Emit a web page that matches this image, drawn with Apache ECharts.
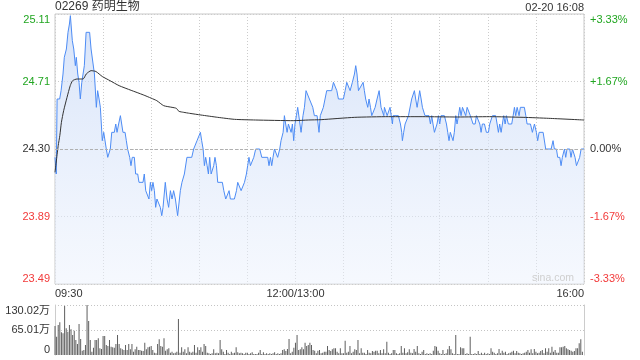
<!DOCTYPE html>
<html><head><meta charset="utf-8">
<script src="https://cdn.jsdelivr.net/npm/echarts@6/dist/echarts.min.js"></script>
<style>html,body{margin:0;padding:0;background:#fff}#c{width:640px;height:360px}</style>
</head><body><div id="c"></div>
<script>
const stockTitle = '02269 药明生物';
const stampText = '02-20 16:08';
const watermark = 'sina.com';
const prevClose = 24.30;
const priceMin = 23.49, priceMax = 25.11, priceStep = 0.405;
const priceTickLabels = ['23.49', '23.89', '24.30', '24.71', '25.11'];
const pctTickLabels = ['-3.33%', '-1.67%', '0.00%', '+1.67%', '+3.33%'];
const timeTickMinutes = [0, 150, 330];
const timeTickLabels = ['09:30', '12:00/13:00', '16:00'];
const volMax = 130.02;
const volTickLabels = ['0', '65.01万', '130.02万'];

// [minute since 09:30 (lunch removed), price]
const priceLine = [
[0,24.25],[0.8,24.15],[1.3,24.60],[2.9,24.60],[3.8,24.65],[5,24.75],[5.8,24.85],[7.1,24.90],[8.1,25.00],[9,25.05],[9.6,25.10],
[10.8,24.95],[11.7,24.90],[12.7,24.80],[13.3,24.85],[14.2,24.75],[15,24.70],[15.8,24.60],[16.7,24.70],[17.5,24.75],[18.3,24.80],
[19.4,25.00],[21.6,25.00],[22.5,24.90],[23.7,24.90],[24.6,24.75],[25.8,24.55],[26.6,24.65],[27.5,24.60],[28.3,24.55],[29.5,24.35],
[30.4,24.40],[31,24.40],[32,24.30],[32.9,24.25],[33.7,24.25],[34.5,24.30],[35.4,24.40],[37,24.40],[37.9,24.45],[38.7,24.40],
[39.7,24.45],[40.8,24.50],[41.6,24.45],[42.4,24.40],[43.7,24.40],[44.5,24.35],[45.3,24.30],[46.6,24.25],[47.4,24.20],[48.2,24.25],
[49.5,24.25],[50.3,24.15],[51.6,24.15],[52.4,24.10],[54.9,24.10],[55.7,24.15],[56.6,24.05],[57.8,24.05],[58.6,24.00],[59.5,24.10],
[60.3,24.05],[61.1,24.10],[62,24.05],[62.8,23.95],[63.6,24.00],[64.5,24.00],[65.7,23.95],[66.6,23.90],[67.4,23.95],[68.8,24.10],
[69.9,24.00],[70.9,23.95],[72,24.05],[73,24.00],[74,24.05],[75.1,24.00],[76.5,23.90],[78.2,24.05],[79.2,24.10],[80.7,24.15],
[82.3,24.25],[85.3,24.25],[86.5,24.30],[87.4,24.30],[88.6,24.35],[89.5,24.35],[90.7,24.40],[91.5,24.35],[92.4,24.30],[93.2,24.20],
[94,24.25],[94.9,24.20],[95.7,24.15],[96.5,24.25],[97.4,24.15],[99,24.20],[99.8,24.25],[100.7,24.20],[101.5,24.10],[104.4,24.10],
[105.3,24.05],[106.5,24.00],[107.7,24.00],[108.6,24.05],[109.4,24.00],[111.9,24.00],[113.2,24.05],[114,24.10],[115.2,24.10],[116.1,24.05],
[117.3,24.05],[118.2,24.10],[119.4,24.15],[120.2,24.20],[121,24.25],[121.9,24.20],[123.1,24.20],[124,24.25],[125.2,24.30],[127.7,24.30],
[129,24.25],[132.7,24.25],[133.5,24.20],[134.4,24.25],[135.2,24.20],[136,24.25],[136.9,24.30],[138.1,24.30],[138.9,24.25],[140.2,24.30],
[141,24.35],[142.3,24.40],[143.1,24.50],[143.9,24.45],[144.8,24.40],[145.6,24.45],[146.4,24.45],[147.3,24.40],[148.1,24.45],[148.9,24.35],
[149.7,24.45],[150.6,24.50],[151.4,24.55],[152.2,24.55],[153.5,24.40],[154.7,24.50],[155.6,24.55],[156.6,24.65],[157.6,24.65],[158.7,24.60],
[159.7,24.60],[160.8,24.55],[161.8,24.50],[163.5,24.50],[164.7,24.40],[165.5,24.50],[166.4,24.50],[167.4,24.55],[168.5,24.55],[169.5,24.65],
[172.6,24.65],[173.7,24.70],[174.7,24.70],[175.8,24.65],[176.8,24.60],[179.9,24.60],[181,24.65],[182,24.70],[183,24.70],[184.1,24.65],
[184.7,24.65],[185.5,24.70],[186.8,24.75],[187.6,24.80],[188.4,24.75],[189.3,24.65],[190.1,24.65],[192.2,24.70],[193,24.65],[193.8,24.60],
[195.1,24.55],[195.9,24.60],[196.8,24.55],[197.6,24.50],[198.6,24.50],[199.7,24.55],[200.9,24.60],[202.2,24.65],[202.8,24.65],[203.4,24.55],
[204.2,24.55],[205.1,24.50],[205.5,24.55],[206.3,24.55],[207.2,24.50],[209,24.55],[209.6,24.55],[210.5,24.45],[210.9,24.50],[214.2,24.50],
[215.5,24.45],[216.3,24.40],[216.7,24.35],[217.5,24.40],[218.4,24.45],[219.6,24.45],[220.5,24.50],[221.7,24.50],[222.5,24.60],[223.4,24.60],
[224.2,24.65],[225,24.60],[225.9,24.55],[226.7,24.60],[227.5,24.65],[228.4,24.60],[229.2,24.55],[230.8,24.50],[233.3,24.50],[234.2,24.45],
[235,24.50],[235.8,24.45],[236.7,24.40],[237.5,24.40],[238.3,24.45],[239.2,24.50],[240,24.45],[240.8,24.50],[242.9,24.50],[244.2,24.45],
[245,24.40],[245.8,24.35],[246.6,24.40],[247.5,24.40],[248.3,24.35],[249.1,24.40],[250,24.50],[250.8,24.45],[251.7,24.50],[252.5,24.55],
[253.3,24.50],[254.2,24.55],[255.4,24.55],[256.2,24.50],[257.1,24.55],[258.3,24.55],[259.1,24.50],[260.8,24.45],[262.1,24.45],[262.9,24.50],
[264.1,24.50],[265,24.45],[265.8,24.40],[266.6,24.45],[267.9,24.45],[269.1,24.40],[270.4,24.40],[271.2,24.45],[272,24.45],[272.9,24.50],
[274.9,24.50],[275.8,24.45],[276.6,24.40],[277.4,24.45],[278.3,24.40],[279.1,24.45],[279.9,24.50],[280.8,24.45],[281.6,24.50],[282.8,24.45],
[284.9,24.45],[285.8,24.50],[286.6,24.55],[287.4,24.50],[288.3,24.55],[289.5,24.50],[290.3,24.55],[292.8,24.55],[293.7,24.50],[294.5,24.45],
[296.6,24.45],[297.8,24.40],[299.1,24.45],[300.3,24.40],[301.1,24.35],[302,24.40],[304.5,24.40],[306.1,24.30],[309.5,24.30],[310.7,24.35],
[311.5,24.30],[312.8,24.30],[313.6,24.25],[314.9,24.25],[315.7,24.20],[316.5,24.25],[317.8,24.30],[318.6,24.25],[319.4,24.30],[321.1,24.30],
[321.9,24.25],[322.8,24.30],[323.6,24.30],[324.4,24.25],[325.3,24.20],[326.5,24.20],[327.3,24.25],[328.2,24.30],[330,24.30]
];

// [minute, average price]
const avgLine = [
[0,24.16],[2,24.32],[3,24.38],[4,24.46],[5.4,24.53],[7.5,24.61],[9.5,24.68],[11,24.71],[13.7,24.72],[17.5,24.72],
[19.5,24.75],[22.5,24.77],[25.5,24.765],[29.5,24.735],[34.3,24.71],[40,24.68],[47.5,24.652],[55,24.625],[60,24.605],[63.5,24.59],
[67.8,24.56],[73,24.55],[75.7,24.544],[77.3,24.526],[80.3,24.52],[84,24.514],[91,24.504],[101.5,24.49],[112,24.478],[125,24.474],
[149,24.47],[158,24.474],[166,24.476],[187,24.49],[208,24.494],[229,24.494],[251,24.492],[271,24.494],[292,24.49],[308,24.484],[330,24.474]
];

// volume per minute, in 万 shares (minute 0 .. 330)
const volume = [
75.4,47.7,78.0,84.9,58.9,56.3,127.4,69.3,60.7,78.0,
66.7,52.0,63.3,39.0,28.6,80.6,41.6,11.3,13.0,26.0,
130.02,88.4,39.0,8.7,19.1,39.0,39.0,43.3,17.3,15.6,
49.4,49.4,26.0,23.4,39.0,21.7,19.9,19.1,28.6,52.0,
28.6,17.3,14.7,13.0,26.0,13.0,28.6,14.7,28.6,8.7,
14.7,21.7,13.0,13.0,11.3,10.4,32.1,14.7,19.9,21.7,
23.4,13.0,6.1,4.3,28.6,40.7,23.4,21.7,43.3,11.3,
14.7,17.3,6.1,8.7,4.3,6.1,8.7,93.6,6.1,19.9,
8.7,14.7,4.3,19.9,8.7,6.1,8.7,26.0,6.1,19.9,
13.0,19.9,8.7,28.6,23.4,6.1,4.3,2.6,4.3,14.7,
4.3,6.1,4.3,39.0,14.7,8.7,2.6,13.0,6.1,2.6,
8.7,4.3,6.1,19.9,6.9,4.3,6.1,4.3,2.6,6.1,
6.1,2.6,4.3,6.9,2.6,2.6,2.6,6.1,13.0,2.6,
6.9,2.6,4.3,2.6,4.3,2.6,4.3,6.9,2.6,4.3,
2.6,4.3,13.0,14.7,10.4,15.6,41.6,4.3,8.7,19.1,
32.1,52.0,13.0,14.7,19.9,14.7,32.1,23.4,26.0,32.1,
26.0,13.0,11.3,4.3,11.3,13.0,4.3,6.1,8.7,8.7,
23.4,13.0,10.4,14.7,17.3,17.3,8.7,4.3,17.3,4.3,
4.3,37.3,6.1,8.7,23.4,4.3,8.7,14.7,13.0,39.0,
4.3,17.3,6.1,6.1,2.6,13.0,6.1,4.3,10.4,8.7,
11.3,11.3,4.3,13.0,4.3,14.7,4.3,34.7,6.1,2.6,
4.3,13.0,13.0,4.3,2.6,4.3,23.4,6.1,17.3,4.3,
6.9,14.7,6.1,4.3,15.6,8.7,23.4,4.3,2.6,8.7,
13.0,2.6,4.3,2.6,4.3,2.6,11.3,23.4,21.7,11.3,
4.3,2.6,13.0,2.6,4.3,14.7,23.4,14.7,4.3,2.6,
52.0,2.6,2.6,19.9,17.3,17.3,2.6,4.3,2.6,47.7,
2.6,2.6,4.3,2.6,10.4,2.6,6.1,2.6,6.1,2.6,
4.3,2.6,17.3,8.7,6.1,2.6,4.3,15.6,4.3,11.3,
6.1,8.7,2.6,4.3,6.1,8.7,11.3,4.3,10.4,6.1,
4.3,2.6,4.3,6.1,8.7,13.0,6.1,14.7,4.3,15.6,
8.7,4.3,6.1,10.4,13.0,4.3,17.3,8.7,17.3,6.1,
21.7,8.7,13.0,6.1,6.1,19.9,19.9,21.7,23.4,17.3,
14.7,13.0,11.3,8.7,10.4,17.3,17.3,30.3,40.7,8.7,0
];

const FONT = "'Liberation Sans', Arial, 'Noto Sans CJK SC', sans-serif";
const UP = '#21a621', DOWN = '#f23a3a', FLAT = '#333';
const tickRich = {
  up: { color: UP, fontSize: 11, fontFamily: FONT },
  dn: { color: DOWN, fontSize: 11, fontFamily: FONT },
  eq: { color: FLAT, fontSize: 11, fontFamily: FONT }
};
function tickIndex(v) { return Math.round((v - priceMin) / priceStep); }
function tickStyle(i) { return i < 2 ? 'dn' : (i === 2 ? 'eq' : 'up'); }

const chart = echarts.init(document.getElementById('c'), null, { renderer: 'canvas' });
chart.setOption({
  animation: false,
  backgroundColor: '#fff',
  textStyle: { fontFamily: FONT },
  graphic: [
    { type: 'text', left: 55, top: 1, style: { text: stockTitle, fill: '#333', font: '12px ' + FONT } },
    { type: 'text', right: 56, top: 2, style: { text: stampText, fill: '#333', font: '11px ' + FONT } },
    { type: 'text', left: 532, top: 273, z: 10, style: { text: watermark, fill: '#cfcfcf', font: '10.5px ' + FONT } }
  ],
  grid: [
    { left: 55, right: 56, top: 14, height: 270, show: true, borderColor: '#c8c8c8', borderWidth: 1, backgroundColor: 'transparent' },
    { left: 55, right: 56, top: 305, height: 50 }
  ],
  xAxis: [
    {
      gridIndex: 0, type: 'value', min: 0, max: 330, interval: 30,
      axisLine: { show: false }, axisTick: { show: false },
      splitLine: { show: true, lineStyle: { color: '#cccccc', type: [1, 2] } },
      axisLabel: {
        margin: 4, fontSize: 11, color: '#333', fontFamily: FONT,
        alignMinLabel: 'left', alignMaxLabel: 'right',
        formatter: function (v) { const k = timeTickMinutes.indexOf(Math.round(v)); return k >= 0 ? timeTickLabels[k] : ''; }
      }
    },
    {
      gridIndex: 1, type: 'value', min: 0, max: 330,
      axisLine: { show: false }, axisTick: { show: false }, axisLabel: { show: false }, splitLine: { show: false }
    }
  ],
  yAxis: [
    {
      gridIndex: 0, type: 'value', min: priceMin, max: priceMax, interval: priceStep,
      axisLine: { show: false }, axisTick: { show: false },
      splitLine: { show: true, lineStyle: { color: '#cccccc', type: [1, 2] } },
      axisLabel: {
        margin: 5, rich: tickRich,
        verticalAlignMinLabel: 'bottom', verticalAlignMaxLabel: 'top',
        formatter: function (v) { const i = tickIndex(v); return '{' + tickStyle(i) + '|' + priceTickLabels[i] + '}'; }
      }
    },
    {
      gridIndex: 0, type: 'value', position: 'right', min: priceMin, max: priceMax, interval: priceStep,
      axisLine: { show: false }, axisTick: { show: false }, splitLine: { show: false },
      axisLabel: {
        margin: 6, rich: tickRich,
        verticalAlignMinLabel: 'bottom', verticalAlignMaxLabel: 'top',
        formatter: function (v) { const i = tickIndex(v); return '{' + tickStyle(i) + '|' + pctTickLabels[i] + '}'; }
      }
    },
    {
      gridIndex: 1, type: 'value', min: 0, max: volMax, interval: volMax / 2,
      axisLine: { show: true, lineStyle: { color: '#cccccc' } }, axisTick: { show: false },
      splitLine: { show: true, lineStyle: { color: ['rgba(0,0,0,0)', '#c4c4c4', '#c4c4c4'], type: [1, 2] } },
      axisLabel: {
        margin: 5, fontSize: 11, color: '#333', fontFamily: FONT,
        verticalAlignMinLabel: 'bottom', verticalAlignMaxLabel: 'top',
        formatter: function (v) { return volTickLabels[Math.round(v / (volMax / 2))]; }
      }
    },
    {
      gridIndex: 1, type: 'value', position: 'right', min: 0, max: volMax, interval: volMax / 2,
      axisLine: { show: true, lineStyle: { color: '#cccccc' } }, axisTick: { show: false },
      axisLabel: { show: false }, splitLine: { show: false }
    }
  ],
  series: [
    {
      name: 'price', type: 'line', xAxisIndex: 0, yAxisIndex: 0, data: priceLine,
      symbol: 'none', silent: true,
      lineStyle: { color: '#4d8cf5', width: 1 },
      areaStyle: {
        origin: 'start',
        color: new echarts.graphic.LinearGradient(0, 0, 0, 1, [
          { offset: 0, color: 'rgba(196,214,246,0.95)' },
          { offset: 1, color: 'rgba(236,242,253,0.7)' }
        ])
      },
      markLine: {
        silent: true, symbol: 'none', label: { show: false },
        lineStyle: { color: '#b0b0b0', type: [3, 2], width: 1 },
        data: [{ yAxis: prevClose }]
      }
    },
    {
      name: 'avg', type: 'line', xAxisIndex: 0, yAxisIndex: 0, data: avgLine,
      symbol: 'none', silent: true, smooth: 0.2,
      lineStyle: { color: '#333', width: 1 }
    },
    {
      name: 'volume', type: 'bar', xAxisIndex: 1, yAxisIndex: 2,
      data: volume.map(function (v, i) { return [i, v]; }),
      barWidth: 1, silent: true,
      itemStyle: { color: '#5e5e5e' }
    }
  ]
});
</script>
</body></html>
